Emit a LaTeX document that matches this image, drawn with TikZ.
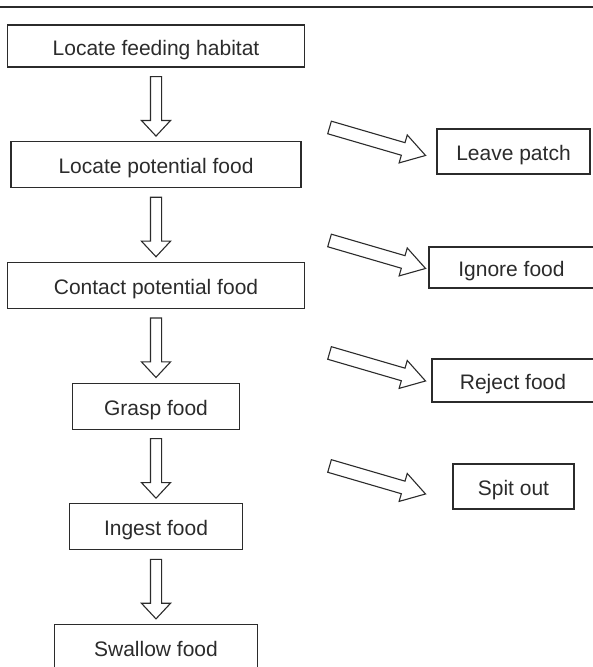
\documentclass[tikz,border=0pt]{standalone}
\usepackage{fontspec}
\setmainfont{Liberation Sans}
\usetikzlibrary{shapes.arrows, positioning, calc}
\definecolor{inkgray}{HTML}{2B2B2B}
\tikzset{
  block/.style={rectangle, draw=inkgray, line width=1.2pt, minimum height=46pt,
                text=inkgray, font=\fontsize{21}{24}\selectfont, inner sep=0pt,
                text height=18pt, text depth=0pt},
  downarrow/.style={single arrow, draw=inkgray, line width=1.1pt, fill=white,
                minimum width=0pt, inner xsep=0pt, inner ysep=5pt,
                single arrow head extend=9pt, single arrow tip angle=86},
  sidearrow/.style={downarrow, inner ysep=6pt, single arrow head extend=8pt,
                single arrow tip angle=64}
}
% hollow block arrow from one point to another
\newcommand{\blockarrow}[3]{%
  \path let \p1=(#2), \p2=(#3),
            \n1={veclen(\x2-\x1,\y2-\y1)}, \n2={atan2(\y2-\y1,\x2-\x1)} in
        node[#1, minimum height=\n1, rotate=\n2] at ($(\p1)!0.5!(\p2)$) {};}

\begin{document}
\begin{tikzpicture}[x=1pt, y=1pt, node distance=73.5pt]
    \useasboundingbox (0,0) rectangle (593,-667);
    \draw[inkgray, line width=1.3pt] (0,-7) -- (593,-7);

    % main sequence
    \node[block, minimum width=297pt, minimum height=42pt] (habitat) at (156,-46) {Locate feeding habitat};
    \node[block, below=of habitat, minimum width=290pt] (potential) {Locate potential food};
    \node[block, below=of potential, minimum width=297pt] (contact) {Contact potential food};
    \node[block, below=of contact, minimum width=167pt] (grasp) {Grasp food};
    \node[block, below=of grasp, minimum width=173pt] (ingest) {Ingest food};
    \node[block, below=of ingest, minimum width=203pt] (swallow) {Swallow food};

    \foreach \a/\b in {habitat/potential, potential/contact, contact/grasp,
                       grasp/ingest, ingest/swallow} {
        \blockarrow{downarrow}{$(\a.south)+(0,-6)$}{$(\b.north)+(0,8)$}
    }

    % alternatives
    \node[block, minimum width=153pt, minimum height=45pt] (leave) at (513.5,-151.5) {Leave patch};
    \node[block, minimum width=165pt, minimum height=41pt] (ignore) at (511.5,-267.5) {Ignore food};
    \node[block, minimum width=162pt, minimum height=43pt] (reject) at (513,-380.5) {Reject food};
    \node[block, minimum width=121pt, minimum height=45pt] (spit) at (513.5,-486.5) {Spit out};

    \foreach \y [count=\i] in {126,239,351.5,464.5} {
        \coordinate (tail\i) at (324.5,-\y);
        \coordinate (tip\i) at ($(tail\i)+(96,-28)$);
        \blockarrow{sidearrow}{tail\i}{tip\i}
    }
\end{tikzpicture}
\end{document}
